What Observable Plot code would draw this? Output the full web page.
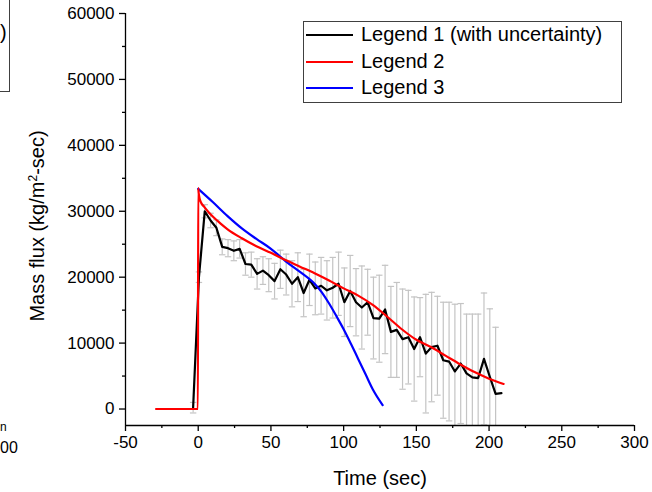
<!DOCTYPE html>
<html>
<head>
<meta charset="utf-8">
<script src="https://cdn.jsdelivr.net/npm/d3@7"></script>
<script src="https://cdn.jsdelivr.net/npm/@observablehq/plot@0.6"></script>
<style>
html, body { margin: 0; padding: 0; background: #fff; }
#wrap { position: relative; width: 652px; height: 492px; overflow: hidden;
  font-family: "Liberation Sans", Arial, sans-serif; color: #000; background: #fff; }
#wrap svg { position: absolute; left: 0; top: 0; }
.abs { position: absolute; white-space: nowrap; line-height: 1; }
#legend { position: absolute; left: 303px; top: 21px; width: 317px; height: 80px;
  border: 1px solid #404040; background: #fff; }
.lrow { position: absolute; left: 0; height: 24px; }
.lline { position: absolute; left: 2px; width: 47px; height: 2px; top: 11px; }
.ltext { position: absolute; left: 57px; top: 1px; font-size: 20px; line-height: 1; white-space: nowrap; }
sup { font-size: 0.6em; vertical-align: 0; position: relative; top: -0.55em; }
</style>
</head>
<body>
<div id="wrap"></div>
<script>
// ---------- data ----------
const xTicks = [-50, 0, 50, 100, 150, 200, 250, 300];
const xMinor = [-25, 25, 75, 125, 175, 225, 275];
const yTicks = [0, 10000, 20000, 30000, 40000, 50000, 60000];
const yMinor = [5000, 15000, 25000, 35000, 45000, 55000];
const xDomain = [-50, 300];
const yDomain = [-2500, 60000];

const seriesNames = ["Legend 1 (with uncertainty)", "Legend 2", "Legend 3"];
const seriesColors = ["#000000", "#ff0000", "#0000ff"];

// Legend 1 (measured, with uncertainty)
const t1 = [-3.5, 0.5, 4.5, 8.5, 12.5, 16.5, 20.5, 24.5, 28.5, 32.5, 36.5, 40.5, 44.5, 48.5,
  52.5, 56.5, 60.5, 64.5, 68.5, 72.5, 76.5, 80.5, 84.5, 88.5, 92.5, 96.5, 100.5, 104.5,
  108.5, 112.5, 116.5, 120.5, 124.5, 128.5, 132.5, 136.5, 140.5, 144.5, 148.5, 152.5,
  156.5, 160.5, 164.5, 168.5, 172.5, 176.5, 180.5, 184.5, 188.5, 192.5, 196.5, 200.5,
  204.5, 208.5];
const v1 = [200, 20000, 30000, 28600, 27500, 24600, 24400, 24000, 24300, 22000, 21900, 20500,
  21000, 20300, 19400, 21200, 20400, 19000, 20000, 17600, 19600, 18300, 18700, 18000, 18400,
  19000, 16200, 17900, 16200, 15400, 16200, 13800, 13700, 15100, 11700, 12000, 10600, 10900,
  9100, 10900, 8400, 9400, 9600, 7400, 7200, 5700, 6900, 5400, 4800, 4700, 7600, 4900,
  2300, 2400];
const e1 = [800, 800, 1000, 1100, 1200, 1200, 1300, 1500, 1400, 1700, 1900, 2300, 2100, 2500,
  2700, 2900, 3100, 3500, 3700, 3600, 3900, 4000, 4300, 4500, 4600, 4800, 5200, 5400, 5100,
  6300, 5000, 6200, 6600, 6700, 6900, 7200, 7600, 7100, 7900, 6000, 9000, 8300, 7500, 8800,
  9000, 10200, 9100, 9000, 9600, 9700, 10000, 10300, 10100, null];

// Legend 2
const t2 = [-29, -0.2, 0, 0.3, 1, 2, 4, 7, 10, 15, 20, 30, 40, 50, 60, 70, 80, 90, 100, 110,
  120, 130, 140, 150, 160, 170, 180, 190, 200, 210];
const v2 = [0, 0, 33500, 32800, 31900, 31300, 30700, 29900, 29200, 28200, 27300, 25900, 24700,
  23700, 22600, 21600, 20600, 19500, 18300, 17200, 15800, 14000, 12100, 10500, 9400, 8100,
  6800, 5600, 4600, 3800];

// Legend 3
const t3 = [0, 10, 20, 30, 40, 50, 57, 60, 70, 80, 85, 90, 95, 100, 105, 110, 115, 120, 126.8];
const v3 = [33400, 31400, 29300, 27400, 25800, 24300, 23000, 22450, 20800, 19000, 17700, 16000,
  14100, 12100, 9900, 7600, 5300, 3000, 600];

// ---------- build tables ----------
const black = t1.map((t, i) => ({t, v: v1[i], e: e1[i]}));
const bars = black.filter(d => d.e != null);
const red = t2.map((t, i) => ({t, v: v2[i]}));
const blue = t3.map((t, i) => ({t, v: v3[i]}));

const W = 652, H = 492;
const mL = 125, mR = 18, mT = 13, mB = 67;
const capHalf = 3.2 * (xDomain[1] - xDomain[0]) / (W - mL - mR); // ~3.2 px in data units
const caps = bars.flatMap(d => [
  {x1: d.t - capHalf, x2: d.t + capHalf, y: d.v + d.e},
  {x1: d.t - capHalf, x2: d.t + capHalf, y: d.v - d.e}
]);
const fmt = d => String(d);

const plot = Plot.plot({
  width: W, height: H,
  marginLeft: mL, marginRight: mR, marginTop: mT, marginBottom: mB,
  style: {fontFamily: "'Liberation Sans', Arial, sans-serif", fontSize: "17px", color: "#000", background: "#fff"},
  x: {domain: xDomain, label: null},
  y: {domain: yDomain, label: null},
  marks: [
    // error bars
    Plot.ruleX(bars, {x: "t", y1: d => d.v - d.e, y2: d => d.v + d.e, stroke: "#c4c4c4", strokeWidth: 1.2, clip: true}),
    Plot.link(caps, {x1: "x1", x2: "x2", y1: "y", y2: "y", stroke: "#c4c4c4", strokeWidth: 1.2, clip: true}),
    // series
    Plot.line(black, {x: "t", y: "v", stroke: seriesColors[0], strokeWidth: 2.2, clip: true}),
    Plot.line(blue, {x: "t", y: "v", stroke: seriesColors[2], strokeWidth: 2.2, curve: "monotone-x", clip: true}),
    Plot.line(red, {x: "t", y: "v", stroke: seriesColors[1], strokeWidth: 2.2, curve: "monotone-x", clip: true}),
    // axes lines
    Plot.ruleX([xDomain[0]], {y1: yDomain[0], y2: yDomain[1], stroke: "#000", strokeWidth: 1.3}),
    Plot.ruleY([yDomain[0]], {x1: xDomain[0], x2: xDomain[1], stroke: "#000", strokeWidth: 1.3}),
    // axes
    Plot.axisX(xTicks, {anchor: "bottom", tickSize: 6, tickPadding: 4, strokeWidth: 1.3, tickFormat: fmt, label: null}),
    Plot.axisX(xMinor, {anchor: "bottom", tickSize: 3, strokeWidth: 1.3, tickFormat: () => "", label: null}),
    Plot.axisY(yTicks, {anchor: "left", tickSize: 6, tickPadding: 5, strokeWidth: 1.3, tickFormat: fmt, label: null}),
    Plot.axisY(yMinor, {anchor: "left", tickSize: 3, strokeWidth: 1.3, tickFormat: () => "", label: null})
  ]
});

const wrap = document.getElementById("wrap");
wrap.appendChild(plot);

// axis titles
const xt = document.createElement("div");
xt.className = "abs";
xt.style.cssText = "left:380px;top:478px;transform:translate(-50%,-50%);font-size:20px;";
xt.textContent = "Time (sec)";
wrap.appendChild(xt);

const yt = document.createElement("div");
yt.className = "abs";
yt.style.cssText = "left:37px;top:226px;transform:translate(-50%,-50%) rotate(-90deg);font-size:20px;";
yt.innerHTML = "Mass flux (kg/m<sup>2</sup>-sec)";
wrap.appendChild(yt);

// legend
const leg = document.createElement("div");
leg.id = "legend";
seriesNames.forEach((name, i) => {
  const row = document.createElement("div");
  row.className = "lrow";
  row.style.top = (1 + i * 26.5) + "px";
  const ln = document.createElement("div");
  ln.className = "lline";
  ln.style.background = seriesColors[i];
  const tx = document.createElement("div");
  tx.className = "ltext";
  tx.textContent = name;
  row.appendChild(ln); row.appendChild(tx);
  leg.appendChild(row);
});
wrap.appendChild(leg);

// fragments of the neighbouring panel at the left edge
const box = document.createElement("div");
box.style.cssText = "position:absolute;left:-20px;top:-2px;width:28px;height:92px;border:1px solid #404040;";
wrap.appendChild(box);
const par = document.createElement("div");
par.className = "abs";
par.style.cssText = "left:0px;top:22px;font-size:20px;";
par.textContent = ")";
wrap.appendChild(par);
const nfrag = document.createElement("div");
nfrag.className = "abs";
nfrag.style.cssText = "left:0px;top:421px;font-size:12px;";
nfrag.textContent = "n";
wrap.appendChild(nfrag);
const tfrag = document.createElement("div");
tfrag.className = "abs";
tfrag.style.cssText = "left:0px;top:440px;font-size:16px;";
tfrag.textContent = "00";
wrap.appendChild(tfrag);
</script>
</body>
</html>
